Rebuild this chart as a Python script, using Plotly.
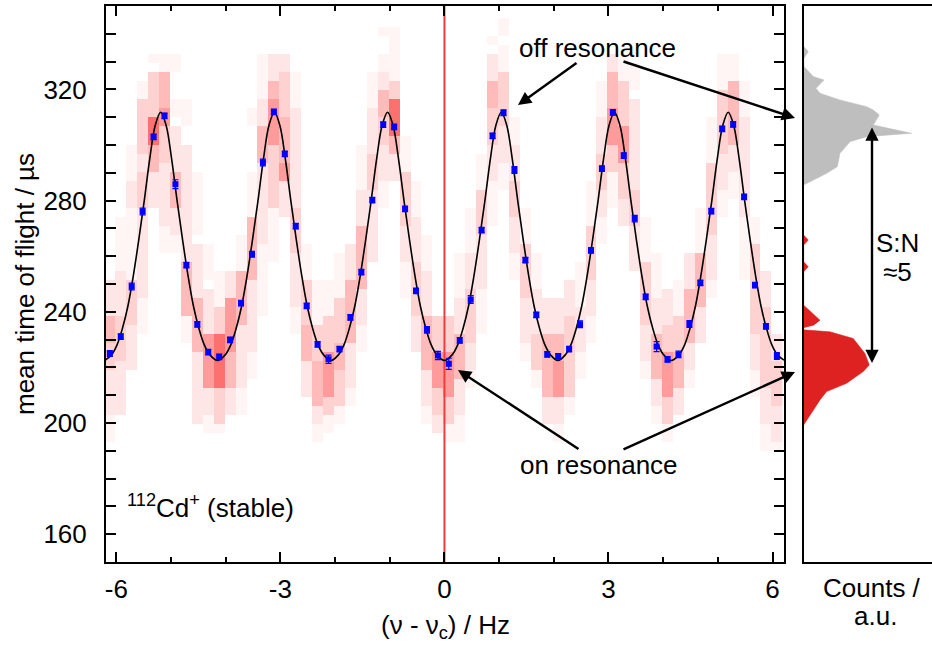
import plotly.graph_objects as go

W, H = 932, 649

# ---------------- data ----------------
detuning_hz = [-6.12, -5.92, -5.72, -5.52, -5.32, -5.12, -4.92, -4.72, -4.52, -4.32,
               -4.12, -3.92, -3.72, -3.52, -3.32, -3.12, -2.92, -2.72, -2.52, -2.32,
               -2.12, -1.92, -1.72, -1.52, -1.32, -1.12, -0.92, -0.72, -0.52, -0.32,
               -0.12, 0.08, 0.28, 0.48, 0.68, 0.88, 1.08, 1.28, 1.48, 1.68,
               1.88, 2.08, 2.28, 2.48, 2.68, 2.88, 3.08, 3.28, 3.48, 3.68,
               3.88, 4.08, 4.28, 4.48, 4.68, 4.88, 5.08, 5.28, 5.48, 5.68,
               5.88, 6.08]

mean_tof_us = [225.0, 231.1, 249.1, 276.1, 302.9, 310.5, 285.9, 256.8, 235.5, 225.5,
               223.8, 229.9, 243.1, 260.7, 293.7, 311.9, 296.8, 270.8, 242.1, 228.3,
               222.9, 226.6, 238.0, 254.3, 280.2, 307.3, 306.5, 277.0, 247.5, 233.5,
               224.3, 221.3, 229.7, 244.4, 269.4, 303.3, 311.6, 291.0, 258.6, 238.9,
               224.7, 224.0, 226.6, 235.5, 262.1, 291.5, 311.7, 296.2, 273.5, 245.4,
               227.5, 222.9, 224.7, 235.6, 250.4, 276.2, 305.8, 307.4, 281.3, 249.6,
               234.8, 224.1]

mean_tof_err = [1.0, 1.0, 1.2, 1.2, 1.0, 1.0, 1.6, 1.0, 1.0, 1.0,
                1.0, 1.0, 1.0, 1.0, 1.2, 1.0, 1.0, 1.0, 1.0, 1.0,
                1.5, 1.0, 1.0, 1.0, 1.0, 1.0, 1.0, 1.0, 1.0, 1.2,
                1.5, 2.0, 1.0, 1.4, 1.0, 1.0, 1.0, 1.2, 1.0, 1.0,
                1.0, 1.0, 1.0, 1.2, 1.0, 1.0, 1.0, 1.0, 1.2, 1.0,
                1.8, 1.0, 1.2, 1.2, 1.0, 1.0, 1.0, 1.0, 1.0, 1.0,
                1.0, 1.2]

# fitted curve
fit_x = [-6.21, -6.09, -5.99, -5.89, -5.79, -5.69, -5.59, -5.49, -5.39, -5.29, -5.19,
         -5.09, -4.99, -4.89, -4.79, -4.69, -4.59, -4.49, -4.39, -4.29, -4.15,
         -4.01, -3.91, -3.81, -3.71, -3.61, -3.51, -3.41, -3.31, -3.21, -3.11,
         -3.01, -2.91, -2.81, -2.71, -2.61, -2.51, -2.41, -2.31, -2.21, -2.075,
         -1.94, -1.84, -1.74, -1.64, -1.54, -1.44, -1.34, -1.24, -1.14, -1.04,
         -0.94, -0.84, -0.74, -0.64, -0.54, -0.44, -0.34, -0.24, -0.14, 0.0,
         0.14, 0.24, 0.34, 0.44, 0.54, 0.64, 0.74, 0.84, 0.94, 1.04,
         1.14, 1.24, 1.34, 1.44, 1.54, 1.64, 1.74, 1.84, 1.94, 2.075,
         2.21, 2.31, 2.41, 2.51, 2.61, 2.71, 2.81, 2.91, 3.01, 3.11,
         3.21, 3.31, 3.41, 3.51, 3.61, 3.71, 3.81, 3.91, 4.01, 4.15,
         4.29, 4.39, 4.49, 4.59, 4.69, 4.79, 4.89, 4.99, 5.09, 5.19,
         5.29, 5.39, 5.49, 5.59, 5.69, 5.79, 5.89, 5.99, 6.09, 6.21]
fit_y = [222.6, 224.5, 228, 234, 242, 253, 266, 280, 295, 307, 311.8,
         307, 295, 280, 266, 253, 242, 234, 228, 224.5, 222.5,
         224.5, 228, 234, 242, 253, 266, 280, 295, 307, 311.8,
         307, 295, 280, 266, 253, 242, 234, 228, 224.5, 222.5,
         224.5, 228, 234, 242, 253, 266, 280, 295, 307, 311.8,
         307, 295, 280, 266, 253, 242, 234, 228, 224.5, 222.5,
         224.5, 228, 234, 242, 253, 266, 280, 295, 307, 311.8,
         307, 295, 280, 266, 253, 242, 234, 228, 224.5, 222.5,
         224.5, 228, 234, 242, 253, 266, 280, 295, 307, 311.8,
         307, 295, 280, 266, 253, 242, 234, 228, 224.5, 222.5,
         224.5, 228, 234, 242, 253, 266, 280, 295, 307, 311.8,
         307, 295, 280, 266, 253, 242, 234, 228, 224.5, 222.6]

# 2D time-of-flight histogram: per frequency column, "rowfrom-rowto:level" (rows counted downward in TOF bins)
TOF_BIN_TOP = 345.6
TOF_BIN_WIDTH = 3.243
N_TOF_BINS = 48
ROW_OFFSET = 4
tof_map_columns = [
    "25-28:2,29-31:4,32-34:3,35-39:2,40-42:1",
    "18-23:1,24-28:2,29-33:3,34-39:2",
    "10-13:1,14-16:2,17-24:1,25-29:3,30-34:2",
    "3-4:1,5-10:3,11-12:2,13-16:3,17-26:2,27-30:1",
    "0-0:1,2-6:3,7-9:6,10-12:4,13-16:2",
    "0-1:1,2-5:4,6-7:5,8-11:3,12-18:2,19-21:1",
    "0-1:1,5-6:1,8-12:2,13-16:4,17-19:2,20-21:1",
    "5-7:1,10-22:2,23-28:4,29-31:1",
    "13-19:1,21-26:2,27-32:4,33-40:2",
    "21-24:1,26-30:2,31-36:5,37-39:2,40-41:1",
    "24-27:1,28-30:3,31-36:6,37-40:3,41-41:1",
    "24-26:2,27-32:5,33-36:4,37-39:2",
    "20-23:1,24-29:4,30-36:2,37-39:1",
    "6-7:1,13-17:1,18-24:4,25-32:2,33-35:1",
    "0-4:1,5-7:2,8-11:4,12-20:2,21-28:1",
    "0-2:2,3-4:4,5-9:5,10-16:3,17-22:1",
    "0-1:2,2-6:3,7-11:4,12-13:5,14-17:2",
    "2-5:1,6-16:2,17-21:3,22-27:2,28-30:1",
    "21-24:1,25-29:3,30-33:4,34-37:2",
    "25-29:1,30-33:3,34-38:4,39-40:2,41-42:1",
    "25-28:1,29-32:3,33-37:5,38-39:3,40-41:1",
    "22-26:1,27-31:3,32-34:4,35-38:3,39-40:1",
    "21-24:2,25-31:4,32-36:2,37-38:1",
    "10-14:1,15-18:2,19-25:4,26-29:2,30-32:1",
    "2-5:1,6-10:2,11-14:3,15-22:2",
    "-3--3:1,0-1:1,2-3:2,4-6:4,7-9:3,10-13:2,14-16:1",
    "-3--1:1,0-2:1,3-4:3,5-8:6,9-10:4,11-13:2",
    "9-12:1,13-18:3,19-22:2,23-26:1",
    "14-17:1,18-22:2,23-28:3,29-32:2",
    "20-23:1,24-28:2,29-34:4,35-38:2,39-40:1",
    "29-32:3,33-36:5,37-39:3,40-41:2",
    "29-32:3,33-37:5,38-40:3,41-42:1",
    "22-26:1,27-30:2,31-35:4,36-39:2,40-42:1",
    "17-21:1,22-25:2,26-31:3,32-34:2,35-36:1",
    "11-14:1,15-19:3,20-25:2,26-30:1",
    "-2--2:1,0-2:2,3-5:4,6-9:3,10-13:2,14-18:1",
    "-4--3:1,-1-1:1,2-7:3,8-11:2,12-14:1",
    "7-9:1,10-13:2,14-17:3,18-21:2,22-24:1",
    "17-20:1,21-26:3,27-31:2,32-33:1",
    "22-25:1,26-30:2,31-34:3,35-36:1",
    "27-30:2,31-37:4,38-40:2",
    "27-30:2,31-33:4,34-37:5,38-40:2,41-42:1",
    "25-28:2,29-37:3,38-39:1",
    "23-27:1,28-32:2,33-35:1",
    "14-18:1,19-24:3,25-28:2,29-31:1",
    "3-6:1,7-10:2,11-14:3,15-17:2,18-20:1",
    "0-1:2,2-5:4,6-9:5,10-12:3,13-16:1",
    "0-2:1,3-7:3,8-11:5,12-15:3,16-18:2",
    "1-3:1,5-14:2,15-18:3,19-23:2",
    "18-22:1,23-29:3,30-33:2,34-35:1",
    "22-26:1,27-30:2,31-35:4,36-38:2,39-40:1",
    "26-29:2,30-32:3,33-37:5,38-40:3,41-42:1",
    "25-28:1,29-32:3,33-36:4,37-39:2",
    "22-25:2,26-31:4,32-34:2,35-36:1",
    "17-21:1,22-27:4,28-31:2",
    "7-11:1,12-19:3,20-24:2,25-26:1",
    "0-3:1,4-10:3,11-14:2,15-17:1",
    "0-2:1,3-9:4,10-12:2,13-15:1",
    "3-6:1,7-17:2,18-24:1",
    "18-20:1,21-30:3,31-34:2,35-37:1",
    "24-27:2,28-36:3,37-40:2,41-43:1",
    "31-33:2,34-38:3,39-42:2,43-43:1",
]

# projected histograms (right panel)
hist_off_tof = [335.4, 333.6, 331.2, 328.2, 324.6, 323.4, 320.4, 318.6, 316.2, 313.8,
                312.6, 310.8, 307.2, 304.2, 303.0, 301.2, 297.0, 292.2, 289.8, 285.6]
hist_off_counts = [0, 4.6, 0.3, 0.3, 9.6, 20.3, 12.3, 16.3, 36.3, 63,
                   69.6, 75.6, 69.6, 108, 63, 46.3, 36.3, 33.6, 23, 0]
hist_on_tof = [267.6, 265.8, 264.0, 258.0, 256.2, 254.4, 242.4, 237.0, 235.2, 234.3,
               233.5, 232.8, 230.4, 227.4, 225.0, 220.9, 218.5, 214.3, 211.3, 208.3, 199.3]
hist_on_counts = [0, 4.6, 0, 0, 4.6, 0, 0, 16.3, 10, 0,
                  0, 26.3, 49.6, 56.3, 61.3, 65.6, 59.6, 43, 23, 16.3, 0]

resonance_offset = [0.0]
x_ticks = [-6, -3, 0, 3, 6]
x_tick_text = ["-6", "-3", "0", "3", "6"]
y_ticks = [160, 200, 240, 280, 320]
X_RANGE = [-6.19, 6.21]
Y_RANGE = [150, 350]

# ---------------- build heatmap grid ----------------
z = [[None] * len(detuning_hz) for _ in range(N_TOF_BINS)]
for c, spec in enumerate(tof_map_columns):
    for seg in spec.split(","):
        rng, lev = seg.rsplit(":", 1)
        if rng.startswith("-"):
            rest = rng[1:]
            i = rest.index("-")
            a = -int(rest[:i]); b = int(rest[i + 1:])
        else:
            a, b = rng.split("-", 1)
            a = int(a); b = int(b)
        for k in range(a, b + 1):
            r = k + ROW_OFFSET
            if 0 <= r < N_TOF_BINS:
                z[r][c] = int(lev)
tof_centers = [TOF_BIN_TOP - TOF_BIN_WIDTH * (r + 0.5) for r in range(N_TOF_BINS)]

FONT = "Liberation Sans, Arial, sans-serif"

def px(x):
    return x / W

def py(y):
    return 1 - y / H

fig = go.Figure()

fig.add_trace(go.Heatmap(
    x=detuning_hz, y=tof_centers, z=z, zmin=1, zmax=6, zsmooth=False,
    colorscale=[[0.0, "rgb(255,245,245)"], [0.2, "rgb(255,230,230)"], [0.4, "rgb(255,210,210)"],
                [0.6, "rgb(255,186,186)"], [0.8, "rgb(255,155,155)"], [1.0, "rgb(252,112,112)"]],
    showscale=False, hoverinfo="skip", xaxis="x", yaxis="y"))

fig.add_trace(go.Scatter(
    x=resonance_offset * 2, y=Y_RANGE, mode="lines",
    line=dict(color="rgb(240,60,60)", width=2), hoverinfo="skip", xaxis="x", yaxis="y"))

fig.add_trace(go.Scatter(
    x=fit_x, y=fit_y, mode="lines", line=dict(color="black", width=1.6, shape="spline"),
    xaxis="x", yaxis="y"))

fig.add_trace(go.Scatter(
    x=detuning_hz, y=mean_tof_us, mode="markers",
    marker=dict(symbol="square", size=6, color="rgb(0,0,255)"),
    error_y=dict(type="data", array=mean_tof_err, color="rgb(0,0,255)", thickness=1.2, width=3),
    xaxis="x", yaxis="y"))

fig.add_trace(go.Scatter(
    x=hist_off_counts, y=hist_off_tof, mode="lines", fill="tozerox",
    fillcolor="rgb(190,190,190)", line=dict(color="rgb(190,190,190)", width=0.5),
    xaxis="x2", yaxis="y2"))
fig.add_trace(go.Scatter(
    x=hist_on_counts, y=hist_on_tof, mode="lines", fill="tozerox",
    fillcolor="rgb(222,34,34)", line=dict(color="rgb(222,34,34)", width=0.5),
    xaxis="x2", yaxis="y2"))

ydom = [py(562), py(6)]
axis_common = dict(showline=True, linecolor="black", linewidth=2, showgrid=False, zeroline=False,
                   ticks="inside", tickcolor="black", tickwidth=1.5,
                   tickfont=dict(family=FONT, size=26, color="black"))

fig.update_layout(
    width=W, height=H, margin=dict(l=0, r=0, t=0, b=0),
    paper_bgcolor="white", plot_bgcolor="white", showlegend=False,
    font=dict(family=FONT, size=26, color="black"),
    xaxis=dict(domain=[px(106), px(784)], range=X_RANGE, tickvals=x_ticks, ticktext=x_tick_text,
               ticklen=10, mirror="ticks", ticklabelstandoff=3,
               minor=dict(dtick=1, tick0=0, ticklen=5, ticks="inside", tickcolor="black", tickwidth=1.5),
               anchor="y", **axis_common),
    yaxis=dict(domain=ydom, range=Y_RANGE, tickvals=y_ticks, ticklen=10,
               mirror="ticks", ticklabelstandoff=12,
               minor=dict(dtick=10, tick0=0, ticklen=10, ticks="inside", tickcolor="black", tickwidth=1.5),
               anchor="x", **axis_common),
    xaxis2=dict(domain=[px(803.7), 1.0], range=[0, 128.3], showline=True, linecolor="black",
                linewidth=2, mirror=True, showticklabels=False, ticks="", showgrid=False,
                zeroline=False, anchor="y2"),
    yaxis2=dict(domain=ydom, range=Y_RANGE, matches="y", showline=True, linecolor="black",
                linewidth=2, mirror=False, showticklabels=False, ticks="", showgrid=False,
                zeroline=False, anchor="x2"),
)

def text(t, x, y, xanchor="center", angle=0, size=26):
    fig.add_annotation(text=t, x=px(x), y=py(y), xref="paper", yref="paper", showarrow=False,
                       xanchor=xanchor, yanchor="middle", textangle=angle,
                       font=dict(family=FONT, size=size, color="black"))

def arrow(hx, hy, tx, ty, both=False):
    fig.add_annotation(text="", x=px(hx), y=py(hy), xref="paper", yref="paper",
                       ax=tx - hx, ay=ty - hy, axref="pixel", ayref="pixel", showarrow=True,
                       arrowhead=2, arrowsize=1.1, arrowwidth=2.4, arrowcolor="black",
                       arrowside="end+start" if both else "end", startarrowhead=2,
                       startarrowsize=1.1, standoff=0, startstandoff=0)

text("mean time of flight / µs", 25, 284, angle=-90)
text("(ν - ν<sub>c</sub>) / Hz", 445, 626)
text("Counts /", 872, 588)
text("a.u.", 875, 616)
text("<sup>112</sup>Cd<sup>+</sup> (stable)", 125, 506, xanchor="left")
text("off resonance", 517, 48, xanchor="left")
text("on resonance", 518, 465, xanchor="left")
text("S:N", 897, 243)
text("≈5", 897, 272)

arrow(518, 105, 578, 62)
arrow(795, 118, 622, 61)
arrow(458, 370, 580, 450)
arrow(795, 372, 622, 450)
arrow(872, 363, 872, 126, both=True)

fig.write_html("out.html")
